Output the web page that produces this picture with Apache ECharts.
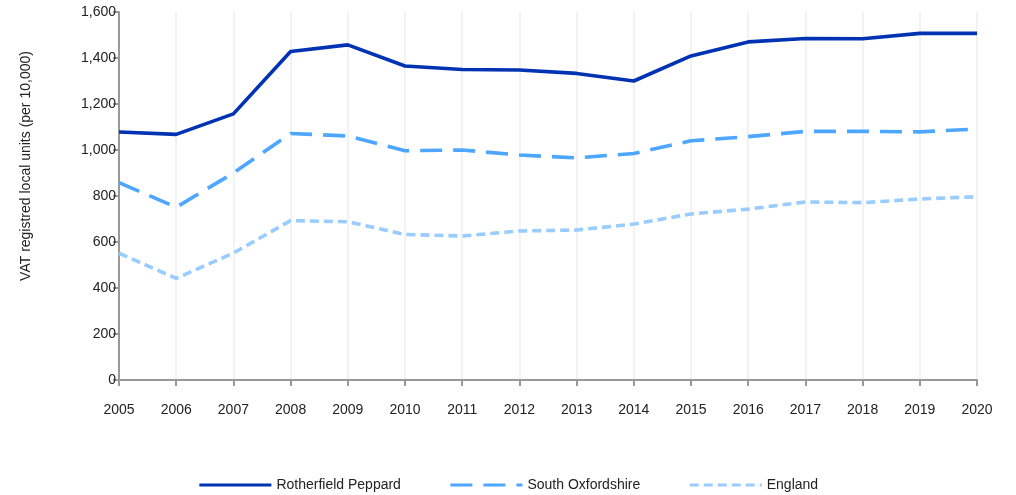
<!DOCTYPE html>
<html>
<head>
<meta charset="utf-8">
<script src="https://cdn.jsdelivr.net/npm/echarts@6/dist/echarts.min.js"></script>
<style>
html,body{margin:0;padding:0;background:#fff;}
#chart{width:1016px;height:495px;}
</style>
</head>
<body>
<div id="chart"></div>
<script>
const years = ['2005','2006','2007','2008','2009','2010','2011','2012','2013','2014','2015','2016','2017','2018','2019','2020'];
const rotherfieldPeppard = [1078,1068,1157,1428,1457,1365,1350,1348,1333,1300,1409,1470,1485,1484,1507,1507];
const southOxfordshire = [858,751,900,1072,1061,997,1000,978,966,985,1040,1058,1081,1081,1079,1091];
const england = [551,442,552,693,688,633,626,648,652,678,722,743,774,771,787,797];
const yAxisTitle = 'VAT registred local units (per 10,000)';

const chart = echarts.init(document.getElementById('chart'), null, {renderer:'canvas'});
const font = 'Liberation Sans, Arial, sans-serif';
chart.setOption({
  animation:false,
  grid:{left:119, right:39, top:12, bottom:115, containLabel:false},
  graphic:[{
    type:'text', x:26, y:166, rotation:Math.PI/2,
    style:{text:yAxisTitle, fontFamily:font, fontSize:14, fill:'#222', align:'center', verticalAlign:'middle'}
  }],
  legend:{
    top:473, left:'center',
    itemWidth:72, itemHeight:14, itemGap:48,
    textStyle:{fontFamily:font, fontSize:14, color:'#222'},
    lineStyle:{width:3},
    itemStyle:{opacity:0},
    data:['Rotherfield Peppard','South Oxfordshire','England']
  },
  xAxis:{
    type:'category', data:years, boundaryGap:false,
    axisLine:{lineStyle:{color:'#999', width:2}},
    axisTick:{show:true, length:6, lineStyle:{color:'#999', width:2}},
    axisLabel:{fontFamily:font, fontSize:14, color:'#222', margin:23},
    splitLine:{show:true, lineStyle:{color:'#eee', width:1.5}}
  },
  yAxis:{
    type:'value', min:0, max:1600, interval:200,
    axisLine:{show:true, lineStyle:{color:'#999', width:2}},
    axisTick:{show:true, length:6, lineStyle:{color:'#999', width:2}},
    axisLabel:{fontFamily:font, fontSize:14, color:'#222', margin:3,
      formatter:v=>v.toLocaleString('en-US')},
    splitLine:{show:false}
  },
  series:[
    {name:'Rotherfield Peppard', type:'line', data:rotherfieldPeppard, symbol:'none',
      lineStyle:{color:'#0033b3', width:3.6}, itemStyle:{color:'#0033b3'}},
    {name:'South Oxfordshire', type:'line', data:southOxfordshire, symbol:'none',
      lineStyle:{color:'#4da6ff', width:3.6, type:[22,11]}, itemStyle:{color:'#4da6ff'}},
    {name:'England', type:'line', data:england, symbol:'none',
      lineStyle:{color:'#99ccff', width:3.6, type:[9,5]}, itemStyle:{color:'#99ccff'}}
  ]
});
</script>
</body>
</html>
